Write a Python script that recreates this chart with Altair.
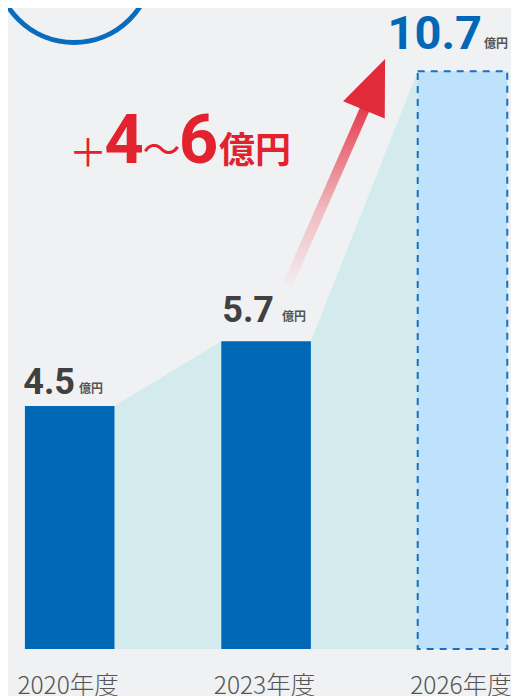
import altair as alt
import pandas as pd

# ---------------- data ----------------
years = ["2020年度", "2023年度", "2026年度"]
values = [4.5, 5.7, 10.7]
value_texts = ["4.5", "5.7", "10.7"]
unit_text = "億円"
growth_sign = "＋"
growth_low = "4"
growth_tilde = "～"
growth_high = "6"
growth_unit = "億円"

# ---------------- layout helpers ----------------
W, H = 491, 641
PX_X = W / 5.0          # px per x unit (5 bands)
PX_Y = 54.0             # px per 億円
YMAX = H / PX_Y
BASE = 649              # page y of baseline
LEFT = 20               # page x of plot left


def ux(px):
    return (px - LEFT) / PX_X


def uy(py):
    return (BASE - py) / PX_Y


bar_left = [2 * i + 0.05 for i in range(3)]
bar_right = [2 * i + 0.962 for i in range(3)]
centers = [2 * i + 0.5 for i in range(3)]

bars = pd.DataFrame({"x": bar_left, "x2": bar_right, "v": values, "year": years})

area = pd.DataFrame({
    "x": [bar_left[0] + 0.2, bar_right[0], bar_left[1], bar_right[1], bar_left[2], bar_left[2] + 0.2],
    "v": [values[0], values[0], values[1], values[1], values[2], values[2]],
})

xs = alt.Scale(domain=[0, 5], nice=False, zero=False)
ys = alt.Scale(domain=[0, YMAX], nice=False, zero=False)
X = lambda f="x": alt.X(f"{f}:Q", scale=xs, axis=None)
Y = lambda f="v": alt.Y(f"{f}:Q", scale=ys, axis=None)

# blue circle decoration (top-left)
circle_df = pd.DataFrame({"x": [ux(74)], "v": [uy(-36)]})
circle = alt.Chart(circle_df).mark_point(
    shape="circle", filled=False, stroke="#0a6cbd", strokeWidth=5, size=157 ** 2, opacity=1
).encode(x=X(), y=Y())

area_layer = alt.Chart(area).mark_area(color="#d3ebed", interpolate="linear").encode(
    x=X(), y=Y(), y2=alt.datum(0)
)

axis = alt.Axis(values=[0, 1, 2, 3, 4, 5], labels=False, ticks=True, tickSize=8,
                tickColor="#d8d8d8", tickWidth=2, domainColor="#d8d8d8", domainWidth=2,
                grid=False, title=None)

solid = alt.Chart(bars.iloc[:2]).mark_rect(color="#0068b7").encode(
    x=alt.X("x:Q", scale=xs, axis=axis), x2="x2", y=Y(), y2=alt.datum(0)
)
plan = alt.Chart(bars.iloc[2:]).mark_rect(
    fill="#bee2fb", stroke="#1a6fc0", strokeWidth=2, strokeDash=[7, 6]
).encode(x=X(), x2="x2", y=Y(), y2=alt.datum(0))

# arrow
shaft_df = pd.DataFrame({"x": [ux(288), ux(367)], "v": [uy(284), uy(104)], "o": [0, 1]})
shaft = alt.Chart(shaft_df).mark_line(
    strokeWidth=10, strokeCap="butt",
    stroke=alt.Gradient(gradient="linear", x1=0, y1=1, x2=0, y2=0,
                        stops=[alt.GradientStop(color="#f2ecee", offset=0),
                               alt.GradientStop(color="#f0bcc2", offset=0.4),
                               alt.GradientStop(color="#e8727e", offset=0.75),
                               alt.GradientStop(color="#e33848", offset=1)])
).encode(x=X(), y=Y(), order="o:Q")
head_df = pd.DataFrame({"x": [ux(374.5)], "v": [uy(84.5)]})
head = alt.Chart(head_df).mark_point(
    shape="M0,-1L0.82,1L-0.82,1Z", filled=True, fill="#e12b3b", size=55 ** 2,
    angle=22.6, opacity=1, strokeWidth=0
).encode(x=X(), y=Y())

# value labels
num_right = [75, 274, 482]
unit_left = [79, 282, 484]
num_base = [394, 322, 49]
num_size = [36, 36, 47]
num_color = ["#404040", "#404040", "#0068b7"]
lab_df = pd.DataFrame({
    "t": value_texts, "x": [ux(p) for p in num_right], "v": [uy(p) for p in num_base],
    "ux": [ux(p) for p in unit_left], "uv": [uy(p - 1) for p in num_base],
    "s": num_size, "c": num_color, "u": [unit_text] * 3,
})
nums = alt.Chart(lab_df).mark_text(
    align="right", baseline="alphabetic", font="Roboto", fontWeight="bold"
).encode(x=X(), y=Y(), text="t:N", size=alt.Size("s:Q", scale=None),
         color=alt.Color("c:N", scale=None))
units = alt.Chart(lab_df).mark_text(
    align="left", baseline="alphabetic", font="Noto Sans CJK JP", fontWeight="bold",
    fontSize=12, color="#555555"
).encode(x=alt.X("ux:Q", scale=xs, axis=None), y=alt.Y("uv:Q", scale=ys, axis=None), text="u:N")

# growth annotation
red = "#e2232f"
gb = uy(163)
g_light = pd.DataFrame({"t": [growth_sign, growth_tilde], "x": [ux(88), ux(161.5)], "v": [gb - 0.05, gb]})
g_bold = pd.DataFrame({"t": [growth_low, growth_high], "x": [ux(124), ux(198.5)], "v": [gb, gb]})
g_unit = pd.DataFrame({"t": [growth_unit], "x": [ux(255)], "v": [gb]})
gl = alt.Chart(g_light).mark_text(align="center", baseline="alphabetic", font="Noto Sans CJK JP",
                                  fontSize=38, color=red).encode(x=X(), y=Y(), text="t:N")
gbd = alt.Chart(g_bold).mark_text(align="center", baseline="alphabetic", font="Roboto",
                                  fontWeight="bold", fontSize=69, color=red).encode(x=X(), y=Y(), text="t:N")
gu = alt.Chart(g_unit).mark_text(align="center", baseline="alphabetic", font="Noto Sans CJK JP",
                                 fontWeight="bold", fontSize=36, color=red).encode(x=X(), y=Y(), text="t:N")

# year labels
yr_df = pd.DataFrame({"x": [c - 0.01 for c in centers], "t": years})
yrs = alt.Chart(yr_df).mark_text(
    align="center", baseline="alphabetic", font="Noto Sans CJK JP", fontWeight=300,
    fontSize=24.5, color="#555555"
).encode(x=X(), y=alt.value(694 - 8), text="t:N")

chart = alt.layer(
    circle, area_layer, solid, plan, shaft, head, nums, units, gl, gbd, gu, yrs
).properties(
    width=W, height=H,
    padding={"left": 12, "top": 0, "right": 0, "bottom": 47},
    autosize=alt.AutoSizeParams(type="none"),
    background="#f0f1f2",
).configure_view(stroke=None)

chart.save("out.html", embed_options={"renderer": "svg", "actions": False})
